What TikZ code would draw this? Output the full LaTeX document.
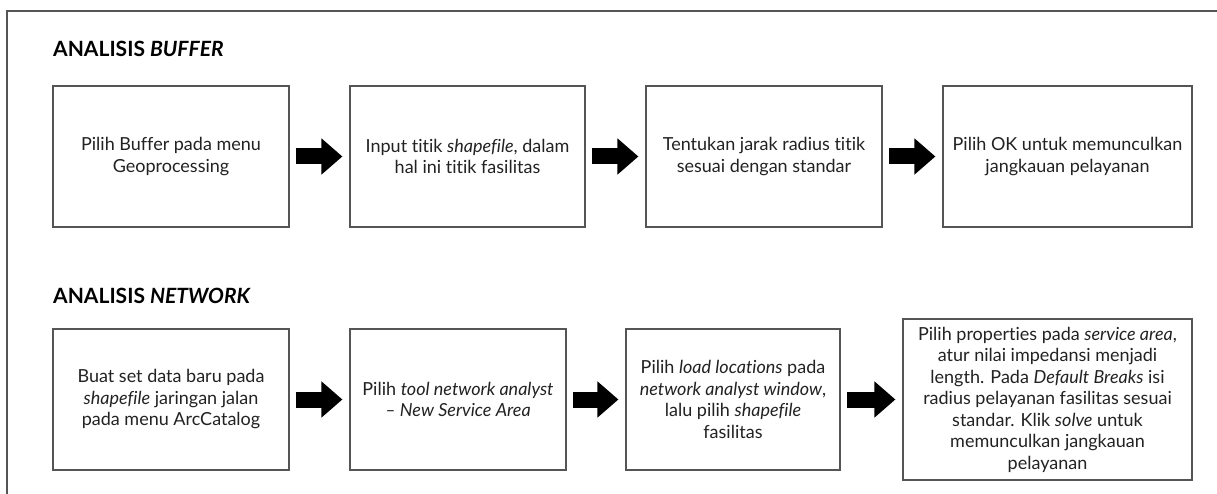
\documentclass[tikz,border=0pt]{standalone}
\usepackage{fontspec}
\setmainfont{Lato}[Ligatures=NoCommon]
\usetikzlibrary{arrows.meta}
\definecolor{edgegray}{HTML}{555555}
\definecolor{ink}{HTML}{222222}
\tikzset{
  stepbox/.style={draw=edgegray, line width=1.2pt, fill=white, align=center,
    inner sep=0pt, text=ink, font=\fontsize{18}{21.5}\selectfont},
  flowarrow/.style={line width=16pt, -{Triangle[length=21pt,width=35pt]},
    shorten <=6pt, shorten >=7pt},
  heading/.style={anchor=base west, inner sep=0pt, text=black,
    font=\fontsize{21}{25}\selectfont\bfseries}
}
\begin{document}
\begin{tikzpicture}[x=1pt,y=-1pt]
\useasboundingbox (0,0) rectangle (1217,494);
% frame (top and left visible)
\draw[edgegray, line width=1.5pt] (7,494) -- (7,11) -- (1217,11);

% row 1
\node[heading] (t1) at (53,56.5) {ANALISIS \textit{BUFFER}};
\node[stepbox, minimum width=236pt, minimum height=141pt] (b1) at (171,156.5)
  {Pilih Buffer pada menu\\Geoprocessing};
\node[stepbox, minimum width=235pt, minimum height=141pt] (b2) at (467.5,156.5)
  {Input titik \textit{shapefile}, dalam\\hal ini titik fasilitas};
\node[stepbox, minimum width=236pt, minimum height=141pt] (b3) at (764,156.5)
  {Tentukan jarak radius titik\\sesuai dengan standar};
\node[stepbox, minimum width=249pt, minimum height=141pt] (b4) at (1067.5,156.5)
  {Pilih OK untuk memunculkan\\jangkauan pelayanan};
\draw[flowarrow] (b1) -- (b2);
\draw[flowarrow] (b2) -- (b3);
\draw[flowarrow] (b3) -- (b4);

% row 2
\node[heading] (t2) at (53,303) {ANALISIS \textit{NETWORK}};
\node[stepbox, minimum width=236pt, minimum height=141pt] (b5) at (171,399.5)
  {Buat set data baru pada\\\textit{shapefile} jaringan jalan\\pada menu ArcCatalog};
\node[stepbox, minimum width=216pt, minimum height=141pt] (b6) at (458,399.5)
  {Pilih \textit{tool network analyst}\\\textit{-- New Service Area}};
\node[stepbox, minimum width=214pt, minimum height=141pt] (b7) at (733,399.5)
  {Pilih \textit{load locations} pada\\\textit{network analyst window},\\lalu pilih \textit{shapefile}\\fasilitas};
\node[stepbox, minimum width=289pt, minimum height=161pt] (b8) at (1047.5,399.5)
  {Pilih properties pada \textit{service area},\\atur nilai impedansi menjadi\\length. Pada \textit{Default Breaks} isi\\radius pelayanan fasilitas sesuai\\standar. Klik \textit{solve} untuk\\memunculkan jangkauan\\pelayanan};
\draw[flowarrow] (b5) -- (b6);
\draw[flowarrow] (b6) -- (b7);
\draw[flowarrow] (b7) -- (b8);
\end{tikzpicture}
\end{document}
